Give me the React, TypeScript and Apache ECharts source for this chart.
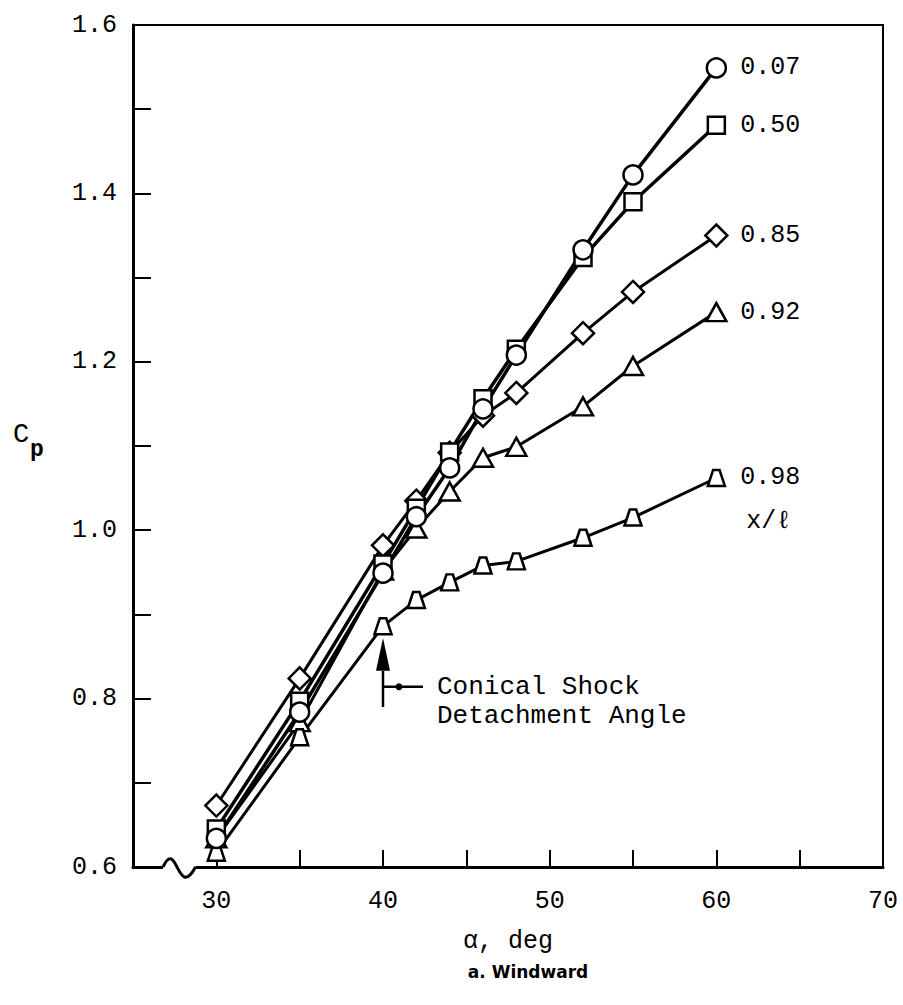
import React, { useEffect, useRef } from "react";
import * as echarts from "echarts";

// angle of attack, deg
const alpha = [30, 35, 40, 42, 44, 46, 48, 52, 55, 60];
// Cp at each x/l station
const cp007 = [0.634, 0.784, 0.949, 1.016, 1.074, 1.144, 1.208, 1.333, 1.422, 1.549];
const cp050 = [0.645, 0.797, 0.96, 1.026, 1.093, 1.156, 1.215, 1.324, 1.39, 1.481];
const cp085 = [0.673, 0.824, 0.982, 1.035, 1.092, 1.136, 1.163, 1.234, 1.283, 1.35];
const cp092 = [0.634, 0.772, 0.952, 1.002, 1.046, 1.086, 1.099, 1.147, 1.195, 1.259];
const cp098 = [0.617, 0.754, 0.886, 0.917, 0.938, 0.958, 0.963, 0.991, 1.015, 1.062];

const stations = ["0.07", "0.50", "0.85", "0.92", "0.98"];
const seriesData = [cp007, cp050, cp085, cp092, cp098];

const xLabelValues = [30, 40, 50, 60, 70];
const yLabelValues = [0.6, 0.8, 1.0, 1.2, 1.4, 1.6];

// annotation: conical shock detachment angle
const detachAlpha = 40;
const annotationLines = ["Conical Shock", "Detachment Angle"];

const MONO = "'Liberation Mono', 'DejaVu Sans Mono', monospace";

const symbols: any[] = [
  { symbol: "circle", size: 19 },
  { symbol: "rect", size: 17 },
  { symbol: "diamond", size: 22 },
  { symbol: "triangle", size: [20, 18] },
  { symbol: "path://M5,0 L11,0 L16,14 L0,14 Z", size: [17, 16] },
];
const lineWidths = [3.5, 3.5, 3, 3, 3];
// drawing order of the markers (later = on top)
const markerZ = [9, 8, 7, 5, 6];

export default function App() {
  const ref = useRef<HTMLDivElement>(null);
  useEffect(() => {
    if (!ref.current) return;
    const chart = echarts.init(ref.current, null, { renderer: "svg" });
    const pairs = (arr: number[]) => alpha.map((a, i) => [a, arr[i]]);

    const lineSeries = stations.map((name, k) => ({
      type: "line",
      name,
      data: pairs(seriesData[k]),
      showSymbol: false,
      symbol: "none",
      z: 2,
      lineStyle: { color: "#000", width: lineWidths[k] },
      endLabel: {
        show: true,
        formatter: name,
        distance: 24,
        color: "#000",
        fontFamily: MONO,
        fontSize: 25,
      },
    }));
    const markerSeries = stations.map((name, k) => ({
      type: "scatter",
      name: name + " pts",
      data: pairs(seriesData[k]),
      symbol: symbols[k].symbol,
      symbolSize: symbols[k].size,
      z: markerZ[k],
      itemStyle: { color: "#fff", borderColor: "#000", borderWidth: 2.5, opacity: 1 },
    }));

    chart.setOption({
      animation: false,
      backgroundColor: "#fff",
      grid: {
        left: 133,
        right: 20,
        top: 25,
        bottom: 138,
        show: true,
        borderColor: "#000",
        borderWidth: 2,
        backgroundColor: "transparent",
      },
      xAxis: {
        type: "value",
        min: 25,
        max: 70,
        interval: 5,
        name: "α, deg",
        nameLocation: "middle",
        nameGap: 62,
        nameTextStyle: { fontFamily: MONO, fontSize: 25, color: "#000" },
        axisLine: { show: true, lineStyle: { color: "#000", width: 3 } },
        axisTick: { show: true, inside: true, length: 17, lineStyle: { color: "#000", width: 2 } },
        axisLabel: {
          margin: 22,
          color: "#000",
          fontFamily: MONO,
          fontSize: 25,
          formatter: (v: number) => (xLabelValues.includes(v) ? String(v) : ""),
        },
        splitLine: { show: false },
      },
      yAxis: {
        type: "value",
        min: 0.6,
        max: 1.6,
        interval: 0.1,
        axisLine: { show: true, lineStyle: { color: "#000", width: 3 } },
        axisTick: { show: true, inside: true, length: 18, lineStyle: { color: "#000", width: 2 } },
        axisLabel: {
          margin: 16,
          color: "#000",
          fontFamily: MONO,
          fontSize: 25,
          formatter: (v: number) =>
            yLabelValues.some((t) => Math.abs(t - v) < 1e-6) ? v.toFixed(1) : "",
        },
        splitLine: { show: false },
      },
      series: [...lineSeries, ...markerSeries],
    });

    const px = (x: number, y: number) => chart.convertToPixel({ gridIndex: 0 }, [x, y]) as number[];
    const tip = px(detachAlpha, 0.872);
    const base = px(detachAlpha, 0.833);
    const tail = px(detachAlpha, 0.79);
    const lead = px(detachAlpha, 0.814);
    const end98 = px(alpha[alpha.length - 1], cp098[cp098.length - 1]);
    const origin = px(25, 0.6);
    const x30 = px(30, 0.6);
    const bx0 = origin[0] + (x30[0] - origin[0]) * 0.36;
    const bx1 = origin[0] + (x30[0] - origin[0]) * 0.75;
    const by = origin[1];

    chart.setOption({
      graphic: [
        // axis break
        { type: "rect", shape: { x: bx0, y: by - 4, width: bx1 - bx0, height: 8 }, style: { fill: "#fff" }, z: 10 },
        {
          type: "bezierCurve",
          shape: {
            x1: bx0, y1: by,
            x2: bx1, y2: by,
            cpx1: bx0 + 14, cpy1: by - 30,
            cpx2: bx1 - 18, cpy2: by + 34,
          },
          style: { stroke: "#000", lineWidth: 3, fill: "none" },
          z: 11,
        },
        // arrow
        { type: "line", shape: { x1: tail[0], y1: tail[1], x2: base[0], y2: base[1] }, style: { stroke: "#000", lineWidth: 2.5 }, z: 10 },
        {
          type: "polygon",
          shape: { points: [[base[0] - 7, base[1]], [base[0] + 7, base[1]], [tip[0], tip[1]]] },
          style: { fill: "#000" },
          z: 10,
        },
        { type: "line", shape: { x1: lead[0], y1: lead[1], x2: lead[0] + 40, y2: lead[1] }, style: { stroke: "#000", lineWidth: 2.5 }, z: 10 },
        { type: "circle", shape: { cx: lead[0] + 16, cy: lead[1], r: 3.5 }, style: { fill: "#000" }, z: 10 },
        {
          type: "text",
          x: lead[0] + 54,
          y: lead[1] - 14,
          style: {
            text: annotationLines.join("\n"),
            fontFamily: MONO,
            fontSize: 26,
            lineHeight: 29,
            fill: "#000",
            textVerticalAlign: "top",
          },
          z: 10,
        },
        // x/l under the last station label
        {
          type: "text",
          x: end98[0] + 30,
          y: end98[1] + 44,
          style: { text: "x/ℓ", fontFamily: MONO, fontSize: 25, fill: "#000", textVerticalAlign: "middle" },
          z: 10,
        },
        // Cp
        { type: "text", x: 13, y: 435, style: { text: "C", fontFamily: MONO, fontSize: 27, fill: "#000", textVerticalAlign: "middle" } },
        { type: "text", x: 30, y: 450, style: { text: "p", fontFamily: MONO, fontSize: 23, fill: "#000", textVerticalAlign: "middle", fontWeight: "bold" } },
        // caption
        {
          type: "text",
          x: 528,
          y: 972,
          style: {
            text: "a. Windward",
            fontFamily: "'DejaVu Sans', sans-serif",
            fontWeight: "bold",
            fontSize: 17,
            fill: "#000",
            textAlign: "center",
            textVerticalAlign: "middle",
          },
        },
      ],
    });

    return () => chart.dispose();
  }, []);
  return <div ref={ref} style={{ position: "absolute", left: 0, top: 0, width: 903, height: 1005 }} />;
}
